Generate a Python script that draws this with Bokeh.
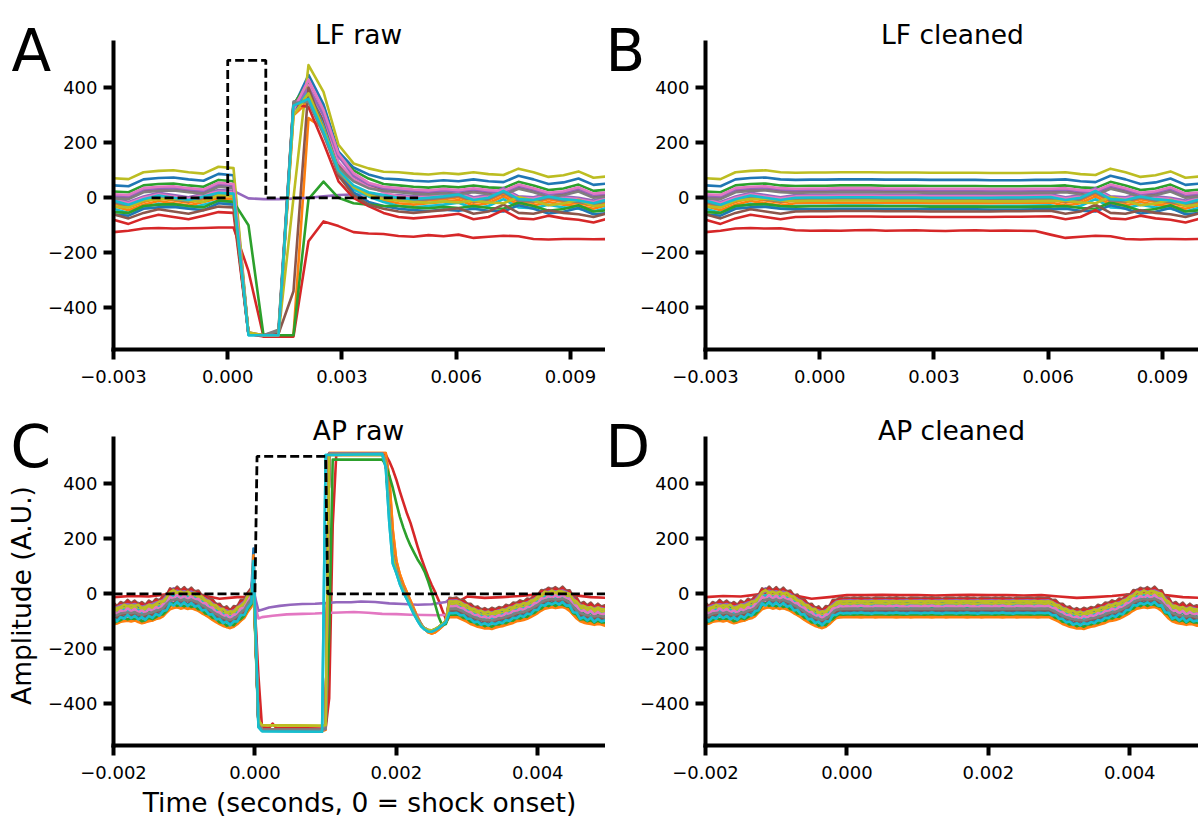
from bokeh.plotting import figure
from bokeh.layouts import column, row
from bokeh.models import Label, FixedTicker, CustomJSTickFormatter, Range1d, LinearAxis
from bokeh.embed import file_html
from bokeh.resources import INLINE

# ---------------------------------------------------------------- colours
TAB10 = ["#1f77b4", "#ff7f0e", "#2ca02c", "#d62728", "#9467bd",
         "#8c564b", "#e377c2", "#7f7f7f", "#bcbd22", "#17becf"]

panel_titles = ["LF raw", "LF cleaned", "AP raw", "AP cleaned"]
panel_letters = ["A", "B", "C", "D"]
lf_xlim = (-0.003, 0.010)
ap_xlim = (-0.002, 0.005)
y_lim = (-552, 565)
lf_xticks = [-0.003, 0.0, 0.003, 0.006, 0.009]
ap_xticks = [-0.002, 0.0, 0.002, 0.004]
y_ticks = [-400, -200, 0, 200, 400]
x_label = "Time (seconds, 0 = shock onset)"
y_label = "Amplitude (A.U.)"

# ---------------------------------------------------------------- LF data (ms, A.U.)
lf_time_ms = [-3.000, -2.606, -2.212, -1.818, -1.424, -1.030, -0.636, -0.242, 0.152, 0.545,
              0.939, 1.333, 1.727, 2.121, 2.515, 2.909, 3.303, 3.697, 4.091, 4.485,
              4.879, 5.273, 5.667, 6.061, 6.455, 6.848, 7.242, 7.636, 8.030, 8.424,
              8.818, 9.212, 9.606, 10.000]
# shared background wiggle before (k0..k8) and after (k19..k33) the artifact
lf_pre_a = [-17, -20, 5, 10, 12, 5, 0, 25, 20]
lf_post_a = [5, 0, -3, 2, -2, 5, -2, -5, 18, 5, -12, -6, 8, -15, -10]
lf_pre_b = [-10, -25, -5, 8, 0, -8, 5, 18, 15]
lf_post_b = [0, -5, 0, 5, 12, -8, 0, 25, -5, -8, 5, -5, -10, -20, -5]
# cleaned wiggle (artifact span flattened)
lf_clean_a = [-17, -20, 5, 10, 12, 5, 3, 4, 4, 5, 5, 5, 4, 4, 4, 3, 3, 3, 3, 2,
              2, 2, 3, 3, 5, -2, -5, 18, 5, -12, -6, 8, -15, -10]
lf_clean_b = [-10, -25, -5, 8, 0, -8, 0, 1, 1, 2, 2, 2, 1, 1, 1, 0, 0, 0, 0, 0,
              1, 1, 2, 3, -8, 0, 25, -5, -8, 5, -5, -10, -20, -5]
lf_shape = ["a", "b", "a", None, "b", "a", "b", "a", "a", "b",
            "a", "b", "a", "b", "a", "b", "a", "b", "a", "b"]
lf_offset = [62, -20, 40, None, 10, 20, 5, 15, 88, -30,
             -45, -10, -35, -70, 25, -50, 30, -5, -15, 0]
# raw artifact samples k9..k18 per channel
lf_window = [
    [-495, -500, -500, 330, 447, 340, 168, 110, 85, 70],
    [-490, -500, -500, -500, 290, 252, 110, 40, 10, -10],
    [-495, -500, -500, 340, 420, 320, 150, 100, 70, 50],
    None,
    [-2, -5, -5, -3, 0, 5, 10, 12, 12, 10],
    [-495, -500, -490, 345, 380, 280, 120, 70, 45, 30],
    [-495, -500, -500, 330, 411, 300, 130, 70, 40, 20],
    [-490, -500, -480, 350, 360, 240, 110, 60, 35, 25],
    [-495, -500, -500, 0, 483, 385, 193, 125, 107, 95],
    [-500, -500, -500, 330, 390, 260, 100, 30, 5, -15],
    [-495, -500, -500, 320, 370, 240, 90, 20, -15, -30],
    [-495, -500, -500, 300, 350, 240, 100, 40, 15, 0],
    [-100, -500, -500, -500, -5, 59, 0, -20, -25, -30],
    [-495, -505, -505, 340, 330, 200, 60, 0, -30, -55],
    [-495, -500, -500, 330, 400, 300, 150, 80, 50, 35],
    [-495, -500, -495, -340, 400, 250, 80, 10, -25, -40],
    [-495, -500, -500, 320, 430, 320, 160, 90, 55, 40],
    [-495, -500, -485, 345, 350, 230, 90, 40, 15, 5],
    [-490, -500, -500, 300, 380, 250, 100, 40, 10, -5],
    [-500, -500, -500, 335, 360, 240, 100, 45, 20, 10],
]
lf_red_raw = [-125, -120, -112, -110, -112, -111, -110, -108, -108, -267,
              -505, -505, -505, -158, -86, -103, -125, -130, -132, -139,
              -142, -136, -140, -134, -146, -142, -138, -140, -150, -152,
              -150, -150, -151, -150]
lf_red_clean = [-125, -120, -112, -110, -112, -111, -118, -120, -119, -120,
                -118, -117, -120, -119, -118, -120, -121, -119, -118, -120,
                -119, -120, -121, -134, -146, -142, -138, -140, -150, -152,
                -150, -150, -151, -150]
lf_stim_ms = [-2.0, 0.0, 0.0, 1.0, 1.0, 5.0]
lf_stim_val = [0, 0, 500, 500, 0, 0]

# ---------------------------------------------------------------- AP data (ms, A.U.)
ap_time_ms = [
    -2.00, -1.95, -1.90, -1.85, -1.80, -1.75, -1.70, -1.65, -1.60, -1.55,
    -1.50, -1.45, -1.40, -1.35, -1.30, -1.25, -1.20, -1.15, -1.10, -1.05,
    -1.00, -0.95, -0.90, -0.85, -0.80, -0.75, -0.70, -0.65, -0.60, -0.55,
    -0.50, -0.45, -0.40, -0.35, -0.30, -0.25, -0.20, -0.15, -0.10, -0.05,
    0.00, 0.05, 0.10, 0.15, 0.20, 0.25, 0.30, 0.35, 0.40, 0.45,
    0.50, 0.55, 0.60, 0.65, 0.70, 0.75, 0.80, 0.85, 0.90, 0.95,
    1.00, 1.05, 1.10, 1.15, 1.20, 1.25, 1.30, 1.35, 1.40, 1.45,
    1.50, 1.55, 1.60, 1.65, 1.70, 1.75, 1.80, 1.85, 1.90, 1.95,
    2.00, 2.05, 2.10, 2.15, 2.20, 2.25, 2.30, 2.35, 2.40, 2.45,
    2.50, 2.55, 2.60, 2.65, 2.70, 2.75, 2.80, 2.85, 2.90, 2.95,
    3.00, 3.05, 3.10, 3.15, 3.20, 3.25, 3.30, 3.35, 3.40, 3.45,
    3.50, 3.55, 3.60, 3.65, 3.70, 3.75, 3.80, 3.85, 3.90, 3.95,
    4.00, 4.05, 4.10, 4.15, 4.20, 4.25, 4.30, 4.35, 4.40, 4.45,
    4.50, 4.55, 4.60, 4.65, 4.70, 4.75, 4.80, 4.85, 4.90, 4.95,
    5.00]
ap_common_a = [
    -70, -68, -62, -60, -58, -61, -57, -63, -67, -64,
    -60, -57, -52, -49, -42, -28, -16, -12, -9, -14,
    -11, -15, -12, -17, -22, -31, -38, -46, -55, -63,
    -70, -77, -81, -85, -80, -71, -58, -48, -46, -45,
    -45, -44, -45, -45, -46, -45, -45, -44, -46, -45,
    -45, -44, -45, -45, -46, -45, -45, -44, -46, -45,
    -45, -44, -45, -45, -46, -45, -45, -44, -46, -45,
    -45, -44, -45, -45, -46, -45, -45, -44, -46, -45,
    -45, -44, -45, -45, -46, -45, -45, -44, -46, -45,
    -45, -44, -45, -45, -46, -45, -45, -44, -50, -56,
    -62, -70, -75, -80, -83, -86, -85, -88, -84, -80,
    -78, -74, -70, -66, -60, -58, -55, -51, -45, -38,
    -30, -21, -14, -12, -9, -12, -10, -8, -13, -22,
    -36, -50, -60, -65, -68, -70, -73, -70, -72, -76,
    -75]
ap_common_b = [
    -78, -70, -66, -58, -63, -60, -62, -58, -70, -66,
    -58, -62, -55, -46, -45, -32, -12, -5, -14, -10,
    -16, -10, -18, -14, -26, -28, -42, -44, -58, -60,
    -74, -73, -86, -82, -84, -68, -62, -50, -45, -46,
    -45, -45, -46, -44, -45, -45, -46, -45, -44, -45,
    -45, -45, -46, -44, -45, -45, -46, -45, -44, -45,
    -45, -45, -46, -44, -45, -45, -46, -45, -44, -45,
    -45, -45, -46, -44, -45, -45, -46, -45, -44, -45,
    -45, -45, -46, -44, -45, -45, -46, -45, -44, -45,
    -45, -45, -46, -44, -45, -45, -46, -45, -48, -58,
    -60, -72, -73, -82, -80, -88, -83, -90, -82, -82,
    -75, -77, -68, -68, -58, -60, -52, -54, -43, -40,
    -28, -24, -10, -15, -6, -14, -8, -10, -15, -18,
    -40, -46, -63, -62, -70, -66, -75, -68, -74, -74,
    -78]
ap_common_c = [
    -62, -75, -60, -66, -52, -64, -55, -68, -60, -70,
    -55, -63, -48, -55, -38, -35, -10, -18, -4, -18,
    -6, -20, -8, -22, -18, -36, -33, -50, -50, -68,
    -66, -82, -76, -90, -75, -76, -52, -52, -44, -47,
    -45, -47, -44, -46, -43, -46, -45, -48, -44, -45,
    -45, -47, -44, -46, -43, -46, -45, -48, -44, -45,
    -45, -47, -44, -46, -43, -46, -45, -48, -44, -45,
    -45, -47, -44, -46, -43, -46, -45, -48, -44, -45,
    -45, -47, -44, -46, -43, -46, -45, -48, -44, -45,
    -46, -44, -45, -47, -44, -45, -46, -44, -53, -52,
    -66, -66, -79, -76, -88, -82, -90, -81, -86, -78,
    -82, -70, -74, -62, -64, -54, -59, -47, -50, -34,
    -34, -16, -18, -8, -14, -6, -15, -4, -18, -17,
    -42, -44, -66, -60, -72, -62, -77, -66, -76, -72,
    -80]
ap_shape = ["a", "b", "c", None, "b", "c", "b", "a", "c", "b",
            "c", "a", "b", "c", "a", "b", "c", "a", "b", "c"]
ap_predrop_ms = [-0.10, -0.05]
ap_predrop = [-25, -8]
ap_spike_ms = -0.02
ap_offset = [15, -35, -5, None, 25, 30, -25, 5, 10, 0,
             -20, -40, -30, 25, 20, -15, 0, -10, 18, -25]
ap_spike = [165, 140, 60, None, 10, 80, -20, 50, 40, 90,
            110, 70, 30, 60, 80, 40, 100, 50, 30, 120]
ap_kind = ["main", "late", "main", None, "purple", "main", "pink", "main", "yellow", "early",
           "main", "late", "green", "main", "main", "main", "main", "main", "yellow", "early"]
ap_templates = {
    "main": ([0.05, 0.10, 0.95, 1.00, 1.05, 1.80, 1.85, 1.90, 1.95, 2.00, 2.05, 2.10,
              2.15, 2.20, 2.25, 2.30, 2.35, 2.40, 2.45, 2.50, 2.55, 2.60, 2.65, 2.70],
             [-470, -495, -496, -490, 510, 510, 480, 300, 140, 85, 45, 15,
              -12, -40, -68, -92, -112, -126, -133, -135, -130, -122, -112, -102]),
    "early": ([0.05, 0.10, 0.95, 1.00, 1.80, 1.85, 1.90, 1.95, 2.00, 2.05, 2.10, 2.15,
               2.20, 2.25, 2.30, 2.35, 2.40, 2.45, 2.50, 2.55, 2.60, 2.65, 2.70],
              [-485, -500, -502, 505, 508, 460, 260, 110, 75, 35, 5, -20,
               -48, -75, -98, -118, -130, -138, -138, -132, -124, -114, -104]),
    "late": ([0.05, 0.10, 0.95, 1.00, 1.05, 1.85, 1.90, 1.95, 2.00, 2.05, 2.10, 2.15,
              2.20, 2.25, 2.30, 2.35, 2.40, 2.45, 2.50, 2.55, 2.60, 2.65, 2.70],
             [-475, -497, -498, -495, 512, 512, 420, 230, 120, 70, 35, 5,
              -25, -55, -85, -110, -128, -140, -145, -140, -130, -118, -105]),
    "yellow": ([0.05, 0.10, 0.95, 1.00, 1.05, 1.80, 1.85, 1.90, 1.95, 2.00, 2.05, 2.10,
                2.15, 2.20, 2.25, 2.30, 2.35, 2.40, 2.45, 2.50, 2.55, 2.60, 2.65, 2.70],
               [-460, -478, -480, -478, 505, 506, 475, 290, 135, 80, 42, 12,
                -15, -42, -70, -94, -114, -126, -132, -133, -128, -120, -110, -100]),
    "green": ([0.05, 0.10, 0.95, 1.00, 1.05, 1.10, 1.80, 1.85, 1.90, 1.95, 2.00, 2.05,
               2.10, 2.15, 2.20, 2.25, 2.30, 2.35, 2.40, 2.45, 2.50, 2.55, 2.60, 2.65, 2.70],
              [-480, -492, -494, -492, -150, 488, 488, 470, 430, 385, 330, 280,
               240, 205, 175, 150, 125, 105, 80, 45, 5, -40, -85, -115, -110]),
    "purple": ([0.05, 0.10, 0.20, 0.35, 0.50, 0.67, 0.85, 1.00, 1.15, 1.36, 1.50, 1.70,
                1.90, 2.10, 2.30, 2.50, 2.70],
               [-62, -58, -50, -44, -40, -37, -36, -34, -31, -31, -28, -30,
                -35, -37, -40, -38, -30]),
    "pink": ([0.05, 0.10, 0.25, 0.45, 0.67, 0.85, 1.00, 1.20, 1.40, 1.60, 1.80, 2.00,
              2.20, 2.40, 2.60, 2.70],
             [-90, -85, -80, -75, -73, -72, -70, -68, -66, -69, -73, -74,
              -76, -77, -78, -76]),
}
# the red channel that sits on top of the AP band
ap_red_ms = [-2.00, -1.75, -1.50, -1.25, -1.00, -0.75, -0.50, -0.25, 0.00, 0.25,
             0.50, 0.75, 1.00, 1.25, 1.50, 1.75, 2.00, 2.25, 2.50, 2.75,
             3.00, 3.25, 3.50, 3.75, 4.00, 4.25, 4.50, 4.75, 5.00]
ap_red_clean = [-12, -8, -10, -2, 2, -5, -18, -12, -5, -5,
                -4, -5, -5, -6, -5, -4, -5, -5, -6, -5,
                -10, -15, -12, -8, -2, 5, -5, -12, -15]
ap_red_art_ms = [-0.10, -0.05, -0.02, 0.05, 0.10, 0.20, 0.25, 0.30, 0.95, 1.00,
                 1.05, 1.10, 1.15, 1.85, 1.90, 1.95, 2.00, 2.05, 2.10, 2.15,
                 2.20, 2.25, 2.30, 2.35, 2.40, 2.45, 2.50, 2.55, 2.60, 2.65,
                 2.70, 2.80, 2.90]
ap_red_art = [-12, 0, 45, -300, -485, -488, -472, -488, -490, -490,
              -380, 250, 505, 505, 482, 452, 415, 372, 332, 292,
              258, 215, 172, 132, 96, 62, 32, 5, -25, -60,
              -92, -60, -25]
ap_stim_ms = [-2.0, 0.0, 0.03, 1.0, 1.03, 5.0]
ap_stim_val = [0, 0, 500, 500, 0, 0]

AP_PRE_END = 38      # samples up to -0.15 ms
AP_POST_START = 95   # samples from 2.75 ms


def ms(v):
    return [t / 1000.0 for t in v]


# ---------------------------------------------------------------- build traces
def lf_traces():
    raw, clean = [], []
    for ch in range(len(lf_offset)):
        if lf_offset[ch] is None:
            raw.append(lf_red_raw)
            clean.append(lf_red_clean)
            continue
        off = lf_offset[ch]
        if lf_shape[ch] == "a":
            pre, post, cl = lf_pre_a, lf_post_a, lf_clean_a
        else:
            pre, post, cl = lf_pre_b, lf_post_b, lf_clean_b
        raw.append([off + v for v in pre] + lf_window[ch] + [off + v for v in post])
        clean.append([off + v for v in cl])
    return raw, clean


AP_COMMONS = {"a": ap_common_a, "b": ap_common_b, "c": ap_common_c}


def ap_traces():
    rx, ry, cx, cy = [], [], [], []
    for ch in range(len(ap_offset)):
        if ap_offset[ch] is None:
            cx.append(ms(ap_red_ms))
            cy.append(ap_red_clean)
            rx.append(ms(ap_red_ms[:8] + ap_red_art_ms + ap_red_ms[20:]))
            ry.append(ap_red_clean[:8] + ap_red_art + ap_red_clean[20:])
            continue
        off = ap_offset[ch]
        common = AP_COMMONS[ap_shape[ch]]
        cx.append(ms(ap_time_ms))
        cy.append([off + v for v in common])
        tt, tv = ap_templates[ap_kind[ch]]
        xs = ap_time_ms[:AP_PRE_END] + ap_predrop_ms + [ap_spike_ms] + tt + ap_time_ms[AP_POST_START:]
        ys = ([off + v for v in common[:AP_PRE_END]] + [off + v for v in ap_predrop]
              + [ap_spike[ch]] + tv + [off + v for v in common[AP_POST_START:]])
        rx.append(ms(xs))
        ry.append(ys)
    return rx, ry, cx, cy


# ---------------------------------------------------------------- layout (pixels)
FONT = "DejaVu Sans"
BOX_W, BOX_H = 495, 307
MINUS = "\u2212"


def make_fig(width, height, box_left, box_top, box_bottom, xlim, xticks):
    kx = BOX_W / (xlim[1] - xlim[0])
    ky = BOX_H / (y_lim[1] - y_lim[0])
    xr = Range1d(xlim[0] - box_left / kx, xlim[0] + (width - box_left) / kx)
    yr = Range1d(y_lim[0] - box_bottom / ky, y_lim[1] + box_top / ky)
    p = figure(width=width, height=height, output_backend="svg", toolbar_location=None,
               title=None, x_range=xr, y_range=yr,
               x_axis_location=None, y_axis_location=None,
               min_border_left=0, min_border_right=0, min_border_top=0, min_border_bottom=0)
    p.outline_line_color = None
    p.grid.visible = False
    p.background_fill_color = "white"
    p.border_fill_color = "white"
    yax = LinearAxis(fixed_location=xlim[0], bounds=y_lim,
                     ticker=FixedTicker(ticks=y_ticks),
                     formatter=CustomJSTickFormatter(
                         code="return Math.round(tick).toFixed(0).replace('-', '%s');" % MINUS))
    xax = LinearAxis(fixed_location=y_lim[0], bounds=xlim,
                     ticker=FixedTicker(ticks=xticks),
                     formatter=CustomJSTickFormatter(
                         code="return tick.toFixed(3).replace('-', '%s');" % MINUS))
    for ax in (xax, yax):
        ax.axis_line_width = 4
        ax.axis_line_color = "black"
        ax.axis_line_cap = "square"
        ax.major_tick_line_width = 4
        ax.major_tick_line_color = "black"
        ax.major_tick_out = 10
        ax.major_tick_in = 0
        ax.minor_tick_line_color = None
        ax.major_label_text_font = FONT
        ax.major_label_text_font_size = "18px"
        ax.major_label_text_color = "black"
    xax.major_label_standoff = 10
    yax.major_label_standoff = 6
    p.add_layout(yax, "left")
    p.add_layout(xax, "below")
    return p


def add_text(p, x, y, text, size, align="center", angle=0):
    p.add_layout(Label(x=x, y=y, x_units="screen", y_units="screen", text=text,
                       angle=angle, angle_units="deg", text_align=align,
                       text_baseline="alphabetic", text_font=FONT,
                       text_font_size=size, text_color="black"))


def draw(p, xs_list, ys_list):
    for ch, (xs, ys) in enumerate(zip(xs_list, ys_list)):
        p.line(xs, ys, line_color=TAB10[ch % 10], line_width=2.6, line_join="round")


lf_raw, lf_clean = lf_traces()
ap_rx, ap_ry, ap_cx, ap_cy = ap_traces()
lf_t = ms(lf_time_ms)

pA = make_fig(605, 395, 113, 42, 46, lf_xlim, lf_xticks)
pB = make_fig(593, 395, 100, 42, 46, lf_xlim, lf_xticks)
pC = make_fig(605, 422, 113, 43, 72, ap_xlim, ap_xticks)
pD = make_fig(593, 422, 100, 43, 72, ap_xlim, ap_xticks)

draw(pA, [lf_t] * len(lf_raw), lf_raw)
pA.line(ms(lf_stim_ms), lf_stim_val, line_color="black", line_width=2.8, line_dash="9 4")
draw(pB, [lf_t] * len(lf_clean), lf_clean)
draw(pC, ap_rx, ap_ry)
pC.line(ms(ap_stim_ms), ap_stim_val, line_color="black", line_width=2.8, line_dash="9 4")
draw(pD, ap_cx, ap_cy)

# titles and panel letters (positions in pixels from each panel's lower-left corner)
add_text(pA, 358, 361, panel_titles[0], "26.5px")
add_text(pB, 347, 361, panel_titles[1], "26.5px")
add_text(pC, 358, 387, panel_titles[2], "26.5px")
add_text(pD, 346, 387, panel_titles[3], "26.5px")
add_text(pA, 11, 345, panel_letters[0], "58px", align="left")
add_text(pB, 0, 345, panel_letters[1], "58px", align="left")
add_text(pC, 10, 371, panel_letters[2], "58px", align="left")
add_text(pD, 0, 371, panel_letters[3], "58px", align="left")
add_text(pC, 21, 222, y_label, "26.5px", angle=90)
add_text(pC, 359, 15, x_label, "26.5px")

layout = column(row(pA, pB), row(pC, pD))
open("out.html", "w").write(file_html(layout, INLINE))
